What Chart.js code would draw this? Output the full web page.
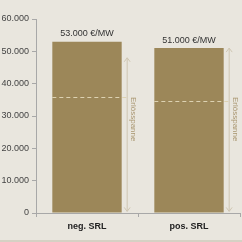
<!DOCTYPE html>
<html>
<head>
<meta charset="utf-8">
<script src="https://cdn.jsdelivr.net/npm/chart.js@4/dist/chart.umd.min.js"></script>
<style>
  html, body { margin: 0; padding: 0; background: #e9e6de; }
  #wrap { width: 242px; height: 242px; position: relative; box-sizing: border-box; border-bottom: 2px solid #d6d1c4; }
</style>
</head>
<body>
<div id="wrap"><canvas id="chart" width="242" height="240"></canvas></div>
<script>
// data
const categories = ["neg. SRL", "pos. SRL"];
const revenue = [53000, 51000];          // bar heights (€/MW)
const revenueLabels = ["53.000 €/MW", "51.000 €/MW"];
const lowerMark = [36000, 34500];        // dashed line inside each bar
const spanTop = [48000, 51000];          // upper end of "Erlösspanne" arrow
const spanBottom = [500, 500];
const spanText = "Erlösspanne";
const yTicks = [0, 10000, 20000, 30000, 40000, 50000, 60000];

function fmt(v) {
    return String(v).replace(/\B(?=(\d{3})+(?!\d))/g, ".");
}

const extrasPlugin = {
    id: "extras",
    afterDatasetsDraw(chart) {
        const ctx = chart.ctx;
        const y = chart.scales.y;
        const meta = chart.getDatasetMeta(0);
        ctx.save();
        meta.data.forEach((bar, i) => {
            const left = bar.x - bar.width / 2;
            const right = bar.x + bar.width / 2;
            const ax = right + 5.5;

            // value label
            ctx.fillStyle = "#333";
            ctx.font = "9px 'Liberation Sans', Arial, sans-serif";
            ctx.textAlign = "center";
            ctx.textBaseline = "middle";
            ctx.fillText(revenueLabels[i], bar.x, y.getPixelForValue(revenue[i]) - 8);

            // dashed line
            const dy = Math.round(y.getPixelForValue(lowerMark[i])) + 0.5;
            ctx.strokeStyle = "#ddd2b2";
            ctx.lineWidth = 1;
            ctx.setLineDash([4, 3]);
            ctx.beginPath();
            ctx.moveTo(left, dy);
            ctx.lineTo(ax, dy);
            ctx.stroke();
            ctx.setLineDash([]);

            // arrow
            const t = y.getPixelForValue(spanTop[i]);
            const b = y.getPixelForValue(spanBottom[i]);
            ctx.strokeStyle = "#cfc6b2";
            ctx.beginPath();
            ctx.moveTo(ax, t);
            ctx.lineTo(ax, b);
            ctx.moveTo(ax - 3, t + 4);
            ctx.lineTo(ax, t);
            ctx.lineTo(ax + 3, t + 4);
            ctx.moveTo(ax - 3, b - 4);
            ctx.lineTo(ax, b);
            ctx.lineTo(ax + 3, b - 4);
            ctx.stroke();

            // rotated text
            ctx.save();
            ctx.translate(ax + 6, y.getPixelForValue(29000));
            ctx.rotate(Math.PI / 2);
            ctx.fillStyle = "#a99670";
            ctx.font = "8px 'Liberation Sans', Arial, sans-serif";
            ctx.textAlign = "center";
            ctx.textBaseline = "middle";
            ctx.fillText(spanText, 0, 0);
            ctx.restore();
        });
        ctx.restore();
    }
};

new Chart(document.getElementById("chart"), {
    type: "bar",
    data: {
        labels: categories,
        datasets: [{
            data: revenue,
            backgroundColor: "#9c8759",
            borderWidth: 0,
            categoryPercentage: 1,
            barPercentage: 0.68
        }]
    },
    options: {
        responsive: false,
        animation: false,
        layout: { padding: { top: 19, right: 2, left: 0, bottom: 0 } },
        plugins: { legend: { display: false }, tooltip: { enabled: false } },
        scales: {
            x: {
                afterFit: (s) => { s.height = 27; },
                grid: { drawOnChartArea: false, tickLength: 4, color: "#a8a8a8" },
                border: { color: "#a8a8a8" },
                ticks: {
                    color: "#222",
                    padding: 4,
                    font: { family: "'Liberation Sans', Arial, sans-serif", size: 9, weight: "bold" }
                }
            },
            y: {
                min: 0,
                max: 60000,
                afterFit: (s) => { s.width = 36; },
                afterBuildTicks: (s) => { s.ticks = yTicks.map(v => ({ value: v })); },
                grid: { drawOnChartArea: false, tickLength: 4, color: "#a8a8a8" },
                border: { color: "#a8a8a8" },
                ticks: {
                    color: "#444",
                    padding: 3,
                    font: { family: "'Liberation Sans', Arial, sans-serif", size: 9 },
                    callback: (v) => fmt(v)
                }
            }
        }
    },
    plugins: [extrasPlugin]
});
</script>
</body>
</html>
